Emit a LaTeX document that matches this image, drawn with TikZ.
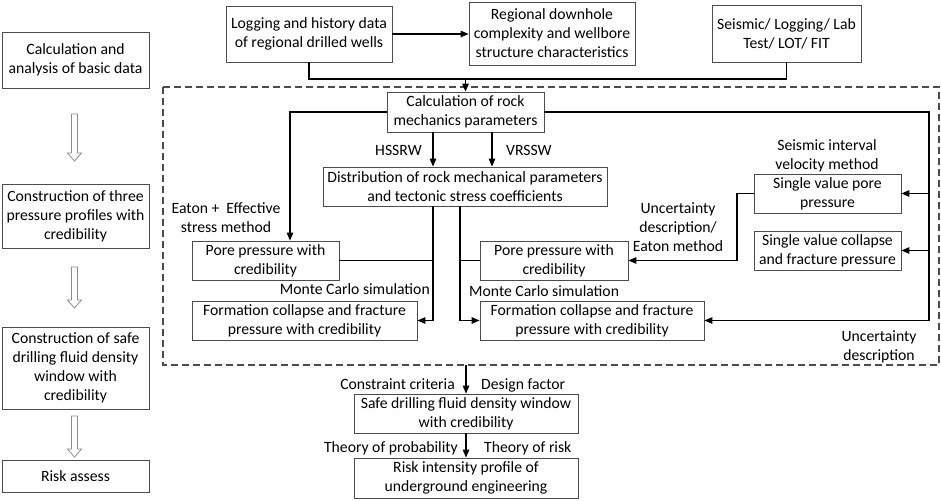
\documentclass[tikz,border=0pt]{standalone}
\usepackage{fontspec}
\setmainfont{Carlito}
\usetikzlibrary{arrows.meta}
\begin{document}
\begin{tikzpicture}[x=1pt,y=-1pt,
  font=\fontsize{15.7}{19}\selectfont,
  box/.style={draw=black!70, line width=0.8pt, inner sep=0pt, align=center, fill=white},
  lbl/.style={inner sep=0pt, align=center},
  conn/.style={line width=1.2pt, black},
  arr/.style={conn, -{Triangle[length=8pt,width=6.5pt]}},
  hollow/.style={draw=black!45, line width=0.8pt, fill=white}
]
\useasboundingbox (0,0) rectangle (941,500);
% dashed frame
\draw[black!70, line width=1.3pt, dash pattern=on 7pt off 4pt] (163,87) rectangle (939,365);
\coordinate (dashbot) at (466,365);

% left column
\node[box, minimum width=147pt, minimum height=56pt] (A1) at (75.5,60) {Calculation and\\analysis of basic data};
\node[box, minimum width=147pt, minimum height=64pt] (A2) at (75.5,216) {Construction of three\\pressure profiles with\\credibility};
\node[box, minimum width=147pt, minimum height=82pt] (A3) at (75.5,368) {Construction of safe\\drilling fluid density\\window with\\credibility};
\node[box, minimum width=147pt, minimum height=32pt] (A4) at (75.5,476) {Risk assess};

\foreach \ya/\yb in {114/161, 267/308, 416/457}{
  \draw[hollow] (71.5,\ya) -- (77.5,\ya) -- (77.5,\yb-8) -- (81.5,\yb-8) -- (74.5,\yb) -- (67.5,\yb-8) -- (71.5,\yb-8) -- cycle;
}

% top boxes
\node[box, minimum width=166pt, minimum height=56pt] (T1) at (309,34) {Logging and history data\\of regional drilled wells};
\node[box, minimum width=166pt, minimum height=63pt] (T2) at (552,33.5) {Regional downhole\\complexity and wellbore\\structure characteristics};
\node[box, minimum width=149pt, minimum height=57pt] (T3) at (786.5,33.5) {Seismic/ Logging/ Lab\\Test/ LOT/ FIT};

% inner boxes
\node[box, minimum width=157pt, minimum height=40pt] (C) at (465.5,112) {Calculation of rock\\mechanics parameters};
\node[box, minimum width=284pt, minimum height=39pt] (D) at (465,186.5) {Distribution of rock mechanical parameters\\and tectonic stress coefficients};
\node[box, minimum width=147pt, minimum height=39pt] (PL) at (265.5,260.5) {Pore pressure with\\credibility};
\node[box, minimum width=225pt, minimum height=39pt] (FL) at (304.5,320.5) {Formation collapse and fracture\\pressure with credibility};
\node[box, minimum width=148pt, minimum height=39pt] (PR) at (554,260.5) {Pore pressure with\\credibility};
\node[box, minimum width=224pt, minimum height=39pt] (FR) at (592,320.5) {Formation collapse and fracture\\pressure with credibility};
\node[box, minimum width=147pt, minimum height=39pt] (S1) at (827.5,193.5) {Single value pore\\pressure};
\node[box, minimum width=147pt, minimum height=39pt] (S2) at (827.5,250.5) {Single value collapse\\and fracture pressure};

% bottom boxes
\node[box, minimum width=224pt, minimum height=39pt] (SF) at (466,413.5) {Safe drilling fluid density window\\with credibility};
\node[box, minimum width=224pt, minimum height=40pt] (R) at (466,478) {Risk intensity profile of\\underground engineering};

% connectors top
\draw[arr] (T1.east) -- (T2.west |- T1.east);
\coordinate (merge) at (465.5,79);
\draw[arr] (T1.south) -- (T1.south |- merge) -- (merge) -- (C.north);
\draw[conn] (T3.south) -- (T3.south |- merge) -- (merge);

% calc to left pore
\coordinate (plin) at (290,0);
\draw[arr] (C.west) -- (plin |- C.west) -- (plin |- PL.north);

% calc to right column
\coordinate (rx) at (929,0);
\draw[arr] (C.east) -- (rx |- C.east) -- (rx |- FR.east) -- (FR.east);
\draw[arr] (rx |- S1.east) -- (S1.east);
\draw[arr] (rx |- S2.east) -- (S2.east);

% HSSRW / VRSSW
\coordinate (hx) at (433,0);
\coordinate (vx) at (492,0);
\draw[arr] (hx |- C.south) -- (hx |- D.north);
\draw[arr] (vx |- C.south) -- (vx |- D.north);

% distribution down
\coordinate (dl) at (433,0);
\coordinate (dr) at (460,0);
\draw[arr] (dl |- D.south) -- (dl |- FL.east) -- (FL.east);
\draw[conn] (PL.east) -- (dl |- PL.east);
\draw[arr] (dr |- D.south) -- (dr |- FR.west) -- (FR.west);
\draw[conn] (PR.west) -- (dr |- PR.west);

% single pore to right pore
\coordinate (sx) at (737,0);
\draw[arr] (S1.west) -- (sx |- S1.west) -- (sx |- PR.east) -- (PR.east);

% bottom
\draw[arr] (dashbot) -- (SF.north);
\draw[arr] (SF.south) -- (R.north);

% labels
\node[lbl, anchor=east] (lh) at (422,150) {HSSRW};
\node[lbl, anchor=west] (lv) at (506,150) {VRSSW};
\node[lbl] (le) at (226,217.5) {Eaton +\ \ Effective\\stress method};
\node[lbl, anchor=east] (lm1) at (430,289) {Monte Carlo simulation};
\node[lbl, anchor=west] (lm2) at (469,291) {Monte Carlo simulation};
\node[lbl] (ls) at (827,156) {Seismic interval\\velocity method};
\node[lbl] (lu) at (678,227) {Uncertainty\\description/\\Eaton method};
\node[lbl] (lu2) at (879,347) {Uncertainty\\description};
\node[lbl, anchor=east] (lc) at (455,384) {Constraint criteria};
\node[lbl, anchor=west] (ld) at (481,385) {Design factor};
\node[lbl, anchor=east] (lp) at (458,448) {Theory of probability};
\node[lbl, anchor=west] (lr) at (484,448) {Theory of risk};
\end{tikzpicture}
\end{document}
